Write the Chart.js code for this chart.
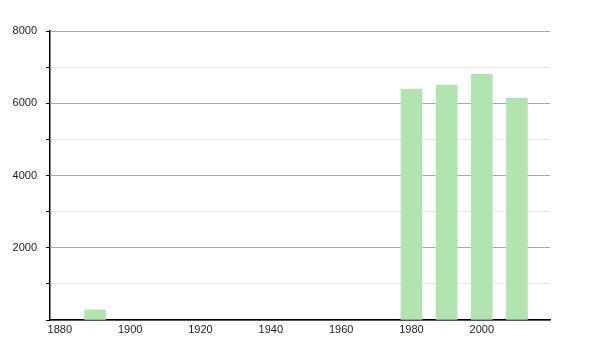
<!DOCTYPE html>
<html>
<head>
<meta charset="utf-8">
<script src="https://cdn.jsdelivr.net/npm/chart.js@4/dist/chart.umd.min.js"></script>
<style>
html,body{margin:0;padding:0;background:#fff;}
#wrap{width:600px;height:350px;}
</style>
</head>
<body>
<div id="wrap"><canvas id="c" width="600" height="350"></canvas></div>
<script>
const years = [1890, 1980, 1990, 2000, 2010];
const population = [280, 6390, 6500, 6800, 6140];
const xTickLabels = [1880, 1900, 1920, 1940, 1960, 1980, 2000];
const yTickValues = [0, 1000, 2000, 3000, 4000, 5000, 6000, 7000, 8000];
const yLabelled = [2000, 4000, 6000, 8000];

const ctx = document.getElementById('c').getContext('2d');
new Chart(ctx, {
  type: 'bar',
  data: {
    datasets: [{
      data: years.map((y, i) => ({x: y, y: population[i]})),
      backgroundColor: 'rgb(178,228,178)',
      borderWidth: 0,
      barThickness: 21
    }]
  },
  options: {
    responsive: false,
    animation: false,
    events: [],
    layout: {padding: {left: 0, right: 50, top: 31, bottom: 0}},
    plugins: {legend: {display: false}, tooltip: {enabled: false}},
    scales: {
      x: {
        type: 'linear',
        min: 1877.2,
        max: 2019.4,
        offset: false,
        afterBuildTicks: s => { s.ticks = xTickLabels.map(v => ({value: v})); },
        afterFit: s => { s.height = 30; },
        grid: {display: false, drawTicks: false},
        border: {display: true, color: '#000', width: 1.5},
        ticks: {
          color: '#222',
          font: {family: 'Liberation Sans, Arial, sans-serif', size: 11},
          padding: 3,
          maxRotation: 0,
          autoSkip: false,
          callback: v => String(v)
        }
      },
      y: {
        min: 0,
        max: 8000,
        afterBuildTicks: s => { s.ticks = yTickValues.map(v => ({value: v})); },
        afterFit: s => { s.width = 50; },
        grid: {
          color: c => (c.tick && c.tick.value % 2000 === 0) ? '#aaaaaa' : '#e6e6e6',
          tickColor: '#000',
          tickLength: 4,
          lineWidth: 1
        },
        border: {display: true, color: '#000', width: 1.5},
        ticks: {
          color: '#222',
          font: {family: 'Liberation Sans, Arial, sans-serif', size: 11},
          padding: 9,
          autoSkip: false,
          callback: v => yLabelled.includes(v) ? String(v) : ''
        }
      }
    }
  }
});
</script>
</body>
</html>
